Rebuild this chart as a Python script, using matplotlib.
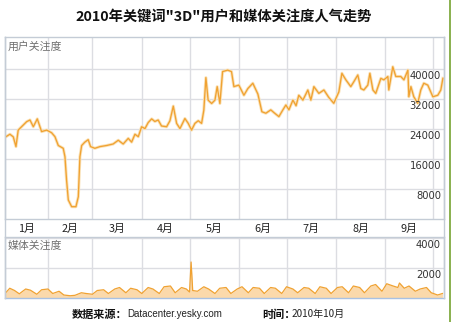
import numpy as np
import matplotlib
matplotlib.use("Agg")
import matplotlib.pyplot as plt
from matplotlib.lines import Line2D
from matplotlib.patches import Rectangle

plt.rcParams['font.family'] = ['Noto Sans CJK SC', 'DejaVu Sans']

# day of year (0 = Jan 1) and user attention
user_days = [4.6, 7.1, 9.2, 10.9, 12.3, 14.4, 17.6, 19.7, 21.8, 24.3, 27.0, 30.2,
             33.3, 35.4, 37.5, 40.6, 41.7, 42.7, 43.8, 45.9, 48.6, 50.1, 51.1, 52.2,
             54.2, 56.3, 57.8, 60.5, 63.7, 67.9, 72.0, 75.2, 78.3, 81.5, 83.6, 85.7,
             87.8, 89.9, 92.0, 94.0, 96.2, 98.2, 100.3, 102.4, 105.6, 107.7, 109.8,
             111.9, 114.0, 117.1, 119.2, 121.3, 123.4, 125.5, 127.6, 129.0, 130.3,
             131.7, 133.9, 136.0, 137.4, 139.1, 140.8, 144.0, 146.4, 147.9, 151.0,
             154.2, 156.7, 159.8, 163.0, 165.5, 168.0, 171.1, 173.0, 176.2, 178.7,
             180.6, 182.5, 185.0, 187.0, 188.7, 191.3, 194.4, 196.3, 198.2, 201.3,
             204.5, 207.6, 210.7, 213.9, 215.8, 218.3, 221.4, 223.3, 225.8, 227.7,
             229.6, 232.1, 233.4, 235.3, 237.1, 240.3, 242.2, 244.7, 245.3, 247.8,
             249.7, 252.8, 254.8, 257.3, 257.9, 259.2, 261.0, 263.5, 265.4, 267.3,
             269.8, 273.0, 276.1, 278.0, 279.3]
user_vals = [21950, 22600, 21900, 19300, 23700, 24600, 25950, 26400, 24600, 26700, 23300, 23700,
             23000, 21950, 19600, 18850, 16600, 10400, 5070, 3280, 3280, 5950, 16600, 19600,
             20500, 21150, 19300, 18850, 19300, 19600, 20000, 21000, 20000, 21500, 20500, 22600,
             21950, 24600, 24100, 25700, 26700, 26000, 26400, 24800, 24600, 26200, 30100,
             25500, 24100, 26800, 25500, 23700, 25500, 26200, 25500, 29000, 37700,
             31700, 30800, 31700, 35300, 30800, 39300, 39700, 39300, 35300, 35700,
             33000, 34800, 36200, 33300, 28600, 28200, 29100, 28400, 27300, 29100,
             30400, 29100, 31700, 30200, 33000, 31700, 34400, 31700, 35300, 33500,
             34400, 32400, 30850, 33900, 38850, 37100, 35300, 36600, 38400, 34800,
             34400, 35700, 38850, 34400, 33500, 37500, 37100, 38000, 34400, 40600,
             38000, 38000, 37100, 39700, 32600, 35300, 32600, 30850, 34400, 36200,
             35700, 32600, 33000, 34400, 37500]

# media attention
media_days = [4, 7, 10, 13, 17, 20, 24, 27, 31, 34, 38, 41, 45, 48, 52, 55, 59, 62,
              66, 69, 73, 76, 80, 83, 87, 90, 94, 97, 101, 104, 108, 111, 115, 118,
              120, 121, 122, 125, 129, 132, 136, 139, 143, 146, 150, 153, 157, 160,
              164, 167, 171, 174, 178, 181, 185, 188, 192, 195, 199, 202, 206, 209,
              213, 216, 220, 223, 227, 230, 234, 237, 241, 244, 248, 251, 252, 255,
              258, 262, 265, 269, 272, 276, 279]
media_vals = [300, 650, 500, 280, 600, 520, 250, 550, 600, 300, 450, 200, 150, 180, 350, 300, 250, 500,
              550, 300, 600, 700, 350, 650, 550, 300, 700, 600, 300, 750, 800, 350, 700, 600,
              400, 2400, 500, 450, 750, 600, 300, 650, 700, 300, 600, 750, 350, 700,
              650, 300, 700, 650, 300, 750, 600, 350, 700, 650, 300, 750, 650, 300,
              700, 750, 350, 800, 700, 350, 800, 900, 450, 950, 800, 700, 1000, 650,
              800, 450, 600, 700, 350, 200, 300]

month_starts = [0, 31, 59, 90, 120, 151, 181, 212, 243, 273, 304]
month_labels = ['1月', '2月', '3月', '4月', '5月', '6月', '7月', '8月', '9月']
user_ticks = [8000, 16000, 24000, 32000, 40000]
media_ticks = [2000, 4000]

W, H = 452, 322
fig = plt.figure(figsize=(W / 100, H / 100), dpi=100)
fig.patch.set_facecolor('white')

def box(left, top, right, bottom):
    return [left / W, 1 - bottom / H, (right - left) / W, (bottom - top) / H]

xlim = (4.0, 280.0)
border = '#c4ccd6'
grid = '#dcdde2'
line_c = '#f0a232'

ax1 = fig.add_axes(box(5, 37, 444, 219))
ax2 = fig.add_axes(box(5, 237, 444, 298))

for ax in (ax1, ax2):
    ax.set_xlim(*xlim)
    ax.set_xticks(month_starts[1:10])
    ax.tick_params(length=0, labelbottom=False, labelleft=False)
    ax.grid(True, color=grid, lw=1.0)
    ax.set_axisbelow(True)
    for s in ax.spines.values():
        s.set_color(border)
        s.set_linewidth(1.0)

ax1.set_ylim(0, 48530)
ax1.set_yticks(user_ticks)
ax1.plot(user_days, user_vals, color='#fae2b8', lw=2.2, solid_joinstyle='round', zorder=2)
ax1.plot(user_days, user_vals, color=line_c, lw=0.95, solid_joinstyle='round', zorder=3)

ax2.set_ylim(0, 4067)
ax2.set_yticks(media_ticks)
ax2.fill_between(media_days, media_vals, 0, color='#fbd9ab', lw=0, zorder=2)
ax2.plot(media_days, media_vals, color=line_c, lw=0.9, zorder=3)
ax2.spines['bottom'].set_color('#a9c1e2')

for ax, ticks in ((ax1, user_ticks), (ax2, media_ticks)):
    for v in ticks:
        ax.annotate(str(v), xy=(1, v), xycoords=('axes fraction', 'data'),
                    xytext=(-2.2, -1.6), textcoords='offset points',
                    ha='right', va='top', fontsize=7.2, color='#333333',
                    family='DejaVu Sans', zorder=5)

ax1.text(0.006, 0.975, '用户关注度', transform=ax1.transAxes, ha='left', va='top',
         fontsize=7.8, color='#707070')
ax2.text(0.006, 0.93, '媒体关注度', transform=ax2.transAxes, ha='left', va='top',
         fontsize=7.8, color='#707070')

# month names between the two panels
for i, lab in enumerate(month_labels):
    mid = (max(month_starts[i], xlim[0]) + month_starts[i + 1]) / 2
    ax1.text(mid, -0.052, lab, transform=ax1.get_xaxis_transform(), ha='center',
             va='center', fontsize=7.8, color='#222222')

# side borders joining the two panels
for px in (5, 444):
    fig.add_artist(Line2D([px / W, px / W], [1 - 37 / H, 1 - 298 / H],
                          color=border, lw=1.0))

fig.add_artist(Rectangle((449 / W, 0), 3 / W, 1, transform=fig.transFigure,
                         color='#8cb252', lw=0))

fig.text(224 / W, 1 - 17 / H, '2010年关键词"3D"用户和媒体关注度人气走势',
         ha='center', va='center', fontsize=10.3, fontweight='bold', color='#111111')

fig.text(72 / W, 1 - 314 / H, '数据来源：', ha='left', va='center',
         fontsize=8, fontweight='bold', color='#111111')
fig.text(127 / W, 1 - 314 / H, 'Datacenter.yesky.com', ha='left', va='center',
         fontsize=7.0, color='#222222', family='Liberation Sans')
fig.text(262 / W, 1 - 314 / H, '时间：', ha='left', va='center',
         fontsize=8, fontweight='bold', color='#111111')
fig.text(292 / W, 1 - 314 / H, '2010年10月', ha='left', va='center',
         fontsize=7.2, color='#222222')

fig.savefig('out.png', dpi=100)
